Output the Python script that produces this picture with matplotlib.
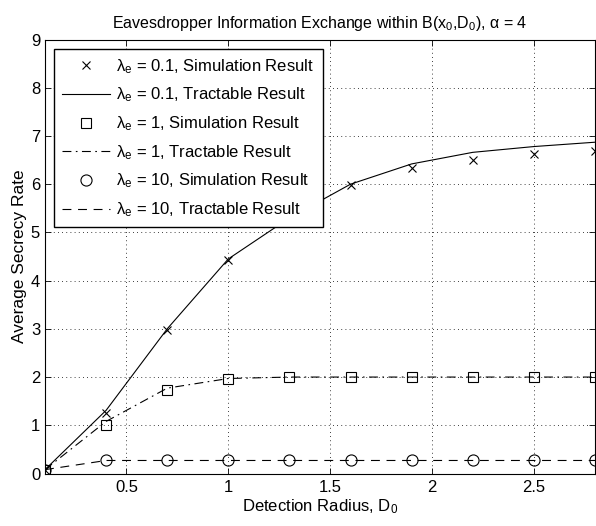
import numpy as np
import matplotlib
matplotlib.use('Agg')
import matplotlib.pyplot as plt

plt.rcParams['font.family'] = ['Liberation Sans', 'DejaVu Sans']
plt.rcParams['mathtext.fontset'] = 'custom'
plt.rcParams['mathtext.rm'] = 'Liberation Sans'
plt.rcParams['mathtext.it'] = 'Liberation Sans'
plt.rcParams['mathtext.default'] = 'regular'

# detection radius D0
d0 = [0.1, 0.4, 0.7, 1.0, 1.3, 1.6, 1.9, 2.2, 2.5, 2.8]

# lambda_e = 0.1
sim_01 = [0.08, 1.26, 2.98, 4.42, 5.25, 5.98, 6.33, 6.51, 6.62, 6.68]
tra_01 = [0.08, 1.31, 3.0, 4.45, 5.3, 6.0, 6.42, 6.66, 6.78, 6.87]
# lambda_e = 1
sim_1 = [0.08, 1.01, 1.74, 1.96, 2.0, 2.0, 2.0, 2.0, 2.0, 2.0]
tra_1 = [0.08, 1.08, 1.77, 1.97, 2.0, 2.0, 2.0, 2.0, 2.0, 2.0]
# lambda_e = 10
sim_10 = [0.08, 0.27, 0.27, 0.27, 0.27, 0.27, 0.27, 0.27, 0.27, 0.27]
tra_10 = [0.08, 0.27, 0.27, 0.27, 0.27, 0.27, 0.27, 0.27, 0.27, 0.27]

fig = plt.figure(figsize=(5.96, 5.26), dpi=100)
ax = fig.add_axes([45/596, (526-473.5)/526, 550/596, 434/526])

lw = 0.8
ax.plot(d0, sim_01, 'x', color='k', ms=6, mew=0.8, ls='none',
        label=r'$\lambda_e$ = 0.1, Simulation Result')
ax.plot(d0, tra_01, '-', color='k', lw=lw,
        label=r'$\lambda_e$ = 0.1, Tractable Result')
ax.plot(d0, sim_1, 's', color='k', mfc='none', ms=7, mew=0.8, ls='none',
        label=r'$\lambda_e$ = 1, Simulation Result')
ax.plot(d0, tra_1, '-.', color='k', lw=lw, dashes=(8, 4, 1.5, 4),
        label=r'$\lambda_e$ = 1, Tractable Result')
ax.plot(d0, sim_10, 'o', color='k', mfc='none', ms=8, mew=0.8, ls='none',
        label=r'$\lambda_e$ = 10, Simulation Result')
ax.plot(d0, tra_10, '--', color='k', lw=lw, dashes=(8, 6),
        label=r'$\lambda_e$ = 10, Tractable Result')

ax.set_xlim(0.1, 2.8)
ax.set_ylim(0, 9)
ax.set_xticks([0.5, 1, 1.5, 2, 2.5])
ax.set_xticklabels(['0.5', '1', '1.5', '2', '2.5'])
ax.set_yticks(range(10))
ax.tick_params(direction='in', top=True, right=True, labelsize=12, length=4, width=0.6)
ax.tick_params(axis='x', pad=5)
ax.grid(True, ls=(0, (1, 4)), color='k', lw=0.6)
for s in ax.spines.values():
    s.set_linewidth(0.8)

ax.set_xlabel(r'Detection Radius, D$_0$', fontsize=12, labelpad=1)
ax.set_ylabel('Average Secrecy Rate', fontsize=12.5, labelpad=3)
ax.set_title(r'Eavesdropper Information Exchange within B(x$_0$,D$_0$), $\alpha$ = 4',
             fontsize=11.5, pad=8)

leg = ax.legend(loc='upper left', bbox_to_anchor=(0.016, 0.979), fontsize=12,
                frameon=True, fancybox=False, edgecolor='k', framealpha=1,
                handlelength=2.9, labelspacing=0.6, borderaxespad=0,
                handletextpad=0.35, borderpad=0.5)
leg.get_frame().set_linewidth(1.0)

fig.savefig('out.png', dpi=100)
